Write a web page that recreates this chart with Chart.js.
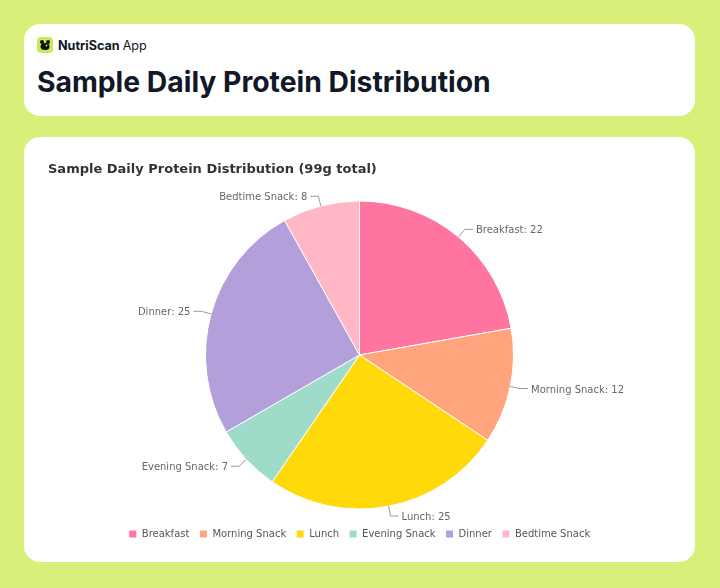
<!DOCTYPE html>
<html>
<head>
<meta charset="utf-8">
<script src="https://cdn.jsdelivr.net/npm/chart.js@4/dist/chart.umd.min.js"></script>
<style>
  html, body { margin: 0; padding: 0; }
  body {
    width: 720px; height: 588px; background: #d8f07a;
    font-family: Inter, "Noto Sans", sans-serif; position: relative; overflow: hidden;
  }
  .card { position: absolute; left: 24px; width: 671px; background: #fff; border-radius: 16px; }
  .header { top: 24px; height: 92px; }
  .brand { position: absolute; left: 13px; top: 13px; display: flex; align-items: center; font-size: 12.6px; color: #111827; }
  .brand svg { margin-right: 5px; }
  .brand b { font-weight: 700; }
  .brand span { font-weight: 400; margin-left: 3px; }
  h1 { position: absolute; left: 13px; top: 41px; margin: 0; font-size: 28.3px; font-weight: 700; color: #111827; }
  .chartcard { top: 137px; height: 425px; }
  .chartcard canvas { position: absolute; left: 0; top: 0; }
</style>
</head>
<body>
<div class="card header">
  <div class="brand">
    <svg width="16" height="16" viewBox="0 0 16 16">
      <rect x="0" y="0" width="16" height="16" rx="4" fill="#c5ec55"/>
      <circle cx="5" cy="5" r="2" fill="#111"/>
      <circle cx="11" cy="5" r="2" fill="#111"/>
      <ellipse cx="8" cy="9.5" rx="4.5" ry="3.5" fill="#111"/>
      <circle cx="9.5" cy="8.5" r="0.9" fill="#c5ec55"/>
    </svg>
    <b>NutriScan</b><span>App</span>
  </div>
  <h1>Sample Daily Protein Distribution</h1>
</div>
<div class="card chartcard">
  <canvas id="proteinChart" width="671" height="425"></canvas>
</div>
<script>
const meals = ["Breakfast", "Morning Snack", "Lunch", "Evening Snack", "Dinner", "Bedtime Snack"];
const proteinGrams = [22, 12, 25, 7, 25, 8];
const sliceColors = ["#ff759f", "#ffa47d", "#ffd90a", "#9edcc9", "#b39fda", "#ffb7c5"];
const chartTitle = "Sample Daily Protein Distribution (99g total)";

// labels with little leader lines, like the reference
const calloutPlugin = {
  id: "callouts",
  afterDatasetsDraw(chart) {
    const ctx = chart.ctx;
    const arcs = chart.getDatasetMeta(0).data;
    ctx.save();
    ctx.font = "10px 'DejaVu Sans'";
    ctx.textBaseline = "middle";
    arcs.forEach((arc, i) => {
      const p = arc.getProps(["x", "y", "startAngle", "endAngle", "outerRadius"], true);
      const mid = (p.startAngle + p.endAngle) / 2;
      const cos = Math.cos(mid), sin = Math.sin(mid);
      const x0 = p.x + p.outerRadius * cos, y0 = p.y + p.outerRadius * sin;
      const x1 = p.x + (p.outerRadius + 10) * cos, y1 = p.y + (p.outerRadius + 10) * sin;
      const dir = cos >= 0 ? 1 : -1;
      const x2 = x1 + 8 * dir;
      ctx.strokeStyle = "#999";
      ctx.lineWidth = 1;
      ctx.beginPath();
      ctx.moveTo(x0, y0);
      ctx.lineTo(x1, y1);
      ctx.lineTo(x2, y1);
      ctx.stroke();
      ctx.fillStyle = "#666";
      ctx.textAlign = dir > 0 ? "left" : "right";
      ctx.fillText(meals[i] + ": " + proteinGrams[i], x2 + 3 * dir, y1 + 1.5);
    });
    ctx.restore();
  }
};

let context = document.getElementById("proteinChart").getContext("2d");
let myChart = new Chart(context, {
  type: "pie",
  data: {
    labels: meals,
    datasets: [
      {
        data: proteinGrams,
        backgroundColor: sliceColors,
        borderColor: "#ffffff",
        borderWidth: 1,
        radius: 154
      }
    ]
  },
  options: {
    responsive: false,
    animation: false,
    layout: { padding: { left: 24, right: 24, top: 0, bottom: 13 } },
    plugins: {
      title: {
        display: true,
        text: chartTitle,
        align: "start",
        color: "#333",
        font: { family: "'DejaVu Sans'", size: 13, weight: "bold" },
        padding: { top: 25, bottom: 13.4 }
      },
      legend: {
        position: "bottom",
        labels: {
          boxWidth: 8,
          boxHeight: 8,
          padding: 10,
          color: "#555",
          font: { family: "'DejaVu Sans'", size: 10 }
        }
      },
      tooltip: { enabled: false }
    }
  },
  plugins: [calloutPlugin]
});
</script>
</body>
</html>
